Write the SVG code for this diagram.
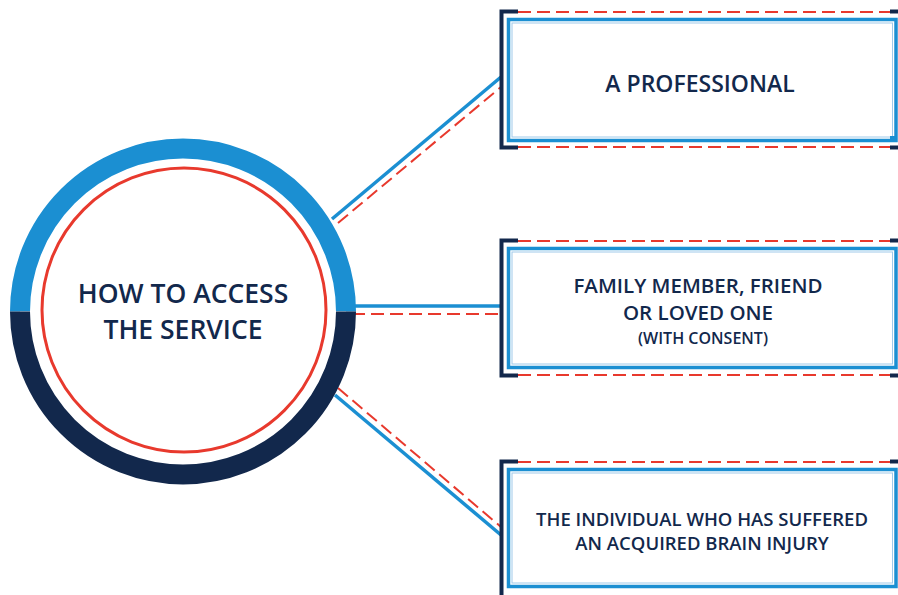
<svg xmlns="http://www.w3.org/2000/svg" width="898" height="595" viewBox="0 0 898 595">
  <defs>
    <style>
      .blue { stroke: #1b8fd2; fill: none; }
      .navy { stroke: #12284c; fill: none; stroke-width: 4; }
      .dash { stroke: #e8392d; fill: none; stroke-width: 2; stroke-dasharray: 13 6; }
      .frame { stroke: #1b8fd2; stroke-width: 3.5; fill: #ffffff; }
      .inner { stroke: #9fcaea; stroke-width: 1; fill: none; }
      .label { font-family: "Open Sans", "Liberation Sans", sans-serif; font-weight: 600; fill: #12284c; text-anchor: middle; }
    </style>
  </defs>
  <rect width="898" height="595" fill="#ffffff"/>

  <!-- connectors from the hub to the three boxes -->
  <g id="connectors">
    <line class="blue" stroke-width="3.5" x1="332" y1="219" x2="501" y2="77"/>
    <line class="dash" x1="338" y1="223" x2="501" y2="87"/>
    <line class="blue" stroke-width="3.5" x1="350" y1="306" x2="501" y2="306"/>
    <line class="dash" x1="352" y1="314" x2="501" y2="314"/>
    <line class="blue" stroke-width="3.5" x1="335" y1="395" x2="501" y2="535"/>
    <line class="dash" x1="338" y1="388" x2="501" y2="527"/>
  </g>

  <!-- central hub -->
  <g id="hub">
    <path d="M20,311.5 A163,163 0 0 1 346,311.5" stroke="#1b8fd2" stroke-width="20" fill="#ffffff"/>
    <path d="M20,311.5 A163,163 0 0 0 346,311.5" stroke="#12284c" stroke-width="20" fill="#ffffff"/>
    <circle cx="184" cy="310" r="142" fill="none" stroke="#e8392d" stroke-width="3"/>
    <text class="label" x="183" y="303" font-size="26.5">HOW TO ACCESS</text>
    <text class="label" x="183" y="339" font-size="26.5">THE SERVICE</text>
  </g>

  <!-- box: a professional -->
  <g id="box-professional">
    <path class="navy" d="M518,11.5 H501.5 V147.5 H518"/>
    <line class="navy" x1="890" y1="11.5" x2="898" y2="11.5"/>
    <line class="navy" x1="890" y1="147.5" x2="898" y2="147.5"/>
    <line class="dash" x1="518" y1="12" x2="890" y2="12"/>
    <line class="dash" x1="518" y1="147" x2="890" y2="147"/>
    <rect class="frame" x="508.5" y="19.5" width="387.5" height="121"/>
    <rect class="inner" x="512" y="23" width="380.5" height="114"/>
    <rect x="890" y="136" width="5" height="4" fill="#1b8fd2"/>
    <text class="label" x="700" y="92" font-size="23">A PROFESSIONAL</text>
  </g>

  <!-- box: family member, friend or loved one -->
  <g id="box-family">
    <path class="navy" d="M518,240.5 H501.5 V375.5 H518"/>
    <line class="navy" x1="890" y1="240.5" x2="898" y2="240.5"/>
    <line class="navy" x1="890" y1="375.5" x2="898" y2="375.5"/>
    <line class="dash" x1="518" y1="241" x2="890" y2="241"/>
    <line class="dash" x1="518" y1="375" x2="890" y2="375"/>
    <rect class="frame" x="508.5" y="248.5" width="387.5" height="119"/>
    <rect class="inner" x="512" y="252" width="380.5" height="112"/>
    <text class="label" x="698" y="293" font-size="20.5">FAMILY MEMBER, FRIEND</text>
    <text class="label" x="698" y="320" font-size="20.5">OR LOVED ONE</text>
    <text class="label" x="703" y="344" font-size="16">(WITH CONSENT)</text>
  </g>

  <!-- box: the individual -->
  <g id="box-individual">
    <path class="navy" d="M518,461.5 H501.5 V597"/>
    <line class="navy" x1="890" y1="461.5" x2="898" y2="461.5"/>
    <line class="dash" x1="518" y1="462" x2="890" y2="462"/>
    <rect class="frame" x="508.5" y="469.5" width="387.5" height="117"/>
    <rect class="inner" x="512" y="473" width="380.5" height="110"/>
    <text class="label" x="702" y="526" font-size="18.5">THE INDIVIDUAL WHO HAS SUFFERED</text>
    <text class="label" x="702" y="550" font-size="18.5">AN ACQUIRED BRAIN INJURY</text>
  </g>
</svg>
